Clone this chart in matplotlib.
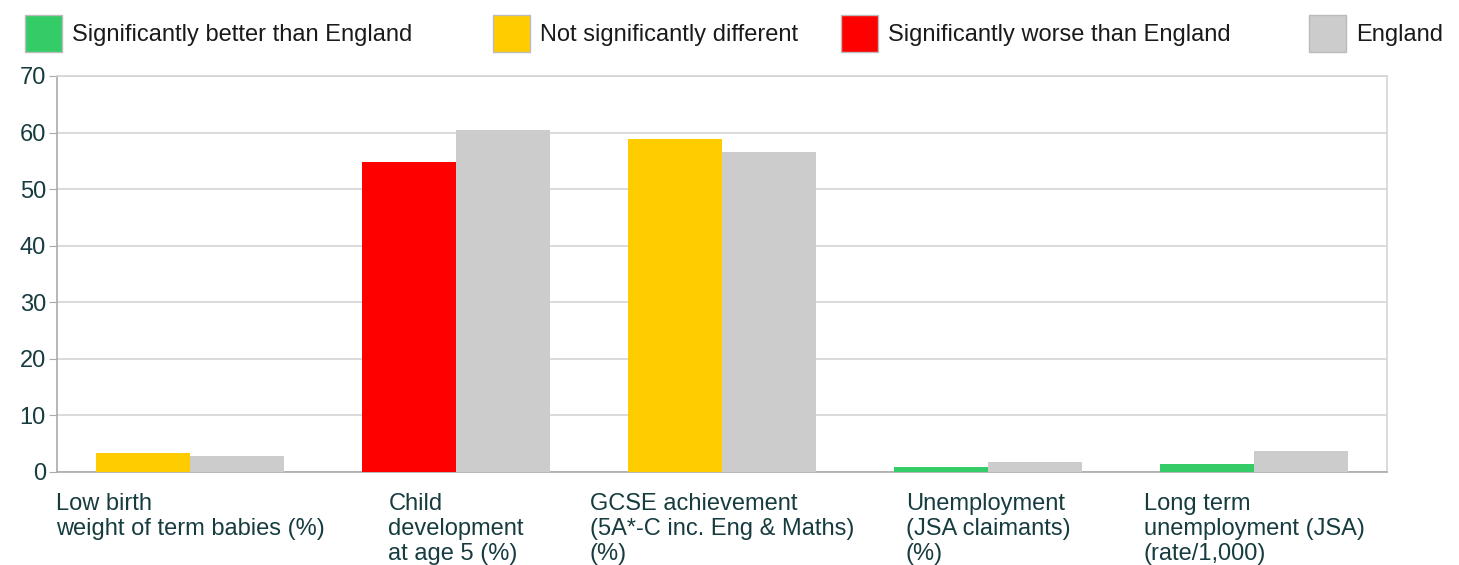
import matplotlib
matplotlib.use("Agg")
import matplotlib.pyplot as plt
from matplotlib.patches import Rectangle
import numpy as np

plt.rcParams['font.family'] = ['Liberation Sans', 'DejaVu Sans']

# data
categories = ["Low birth\nweight of term babies (%)",
              "Child\ndevelopment\nat age 5 (%)",
              "GCSE achievement\n(5A*-C inc. Eng & Maths)\n(%)",
              "Unemployment\n(JSA claimants)\n(%)",
              "Long term\nunemployment (JSA)\n(rate/1,000)"]
local_values = [3.3, 54.8, 58.8, 0.94, 1.36]
england_values = [2.8, 60.4, 56.6, 1.77, 3.71]
significance = ["same", "worse", "same", "better", "better"]

legend_labels = ["Significantly better than England", "Not significantly different",
                 "Significantly worse than England", "England"]
sig_colors = {"better": "#33cc66", "same": "#ffcc00", "worse": "#ff0000"}
england_color = "#cccccc"
text_color = "#173c40"

fig = plt.figure(figsize=(14.59, 5.65), dpi=100)
ax = fig.add_axes([57 / 1459, 1 - 472 / 565, 1330 / 1459, 396 / 565])

x = np.arange(len(categories))
w = 0.355
ax.bar(x - w / 2, local_values, w, color=[sig_colors[s] for s in significance], zorder=3)
ax.bar(x + w / 2, england_values, w, color=england_color, zorder=3)

ax.set_xlim(-0.5, len(categories) - 0.5)
ax.set_ylim(0, 70)
ax.set_yticks(range(0, 71, 10))
ax.yaxis.grid(True, color="#d4d4d4", linewidth=1.2, zorder=0)
ax.set_axisbelow(True)
ax.tick_params(axis="y", labelsize=17, labelcolor=text_color, color="#aaaaaa", length=6, pad=2)
ax.set_xticks(x)
ax.set_xticklabels(categories, fontsize=17, color=text_color, ha="center",
                   multialignment="left", linespacing=1.18)
ax.tick_params(axis="x", length=0, pad=15)
for side in ["left", "bottom"]:
    ax.spines[side].set_color("#aaaaaa")
    ax.spines[side].set_linewidth(1.2)
for side in ["top", "right"]:
    ax.spines[side].set_color("#d4d4d4")
    ax.spines[side].set_linewidth(1.2)

# legend boxes along the top
legend_colors = [sig_colors["better"], sig_colors["same"], sig_colors["worse"], england_color]
legend_x = [25, 493, 841, 1309]
for lx, col, lab in zip(legend_x, legend_colors, legend_labels):
    fig.add_artist(Rectangle((lx / 1459, 1 - 52 / 565), 37 / 1459, 37 / 565,
                             transform=fig.transFigure, facecolor=col,
                             edgecolor="#bbbbbb", linewidth=1))
    fig.text((lx + 47) / 1459, 1 - 35.5 / 565, lab, fontsize=17, color="#1a1a1a",
             va="center", ha="left")

fig.savefig("out.png", dpi=100)
